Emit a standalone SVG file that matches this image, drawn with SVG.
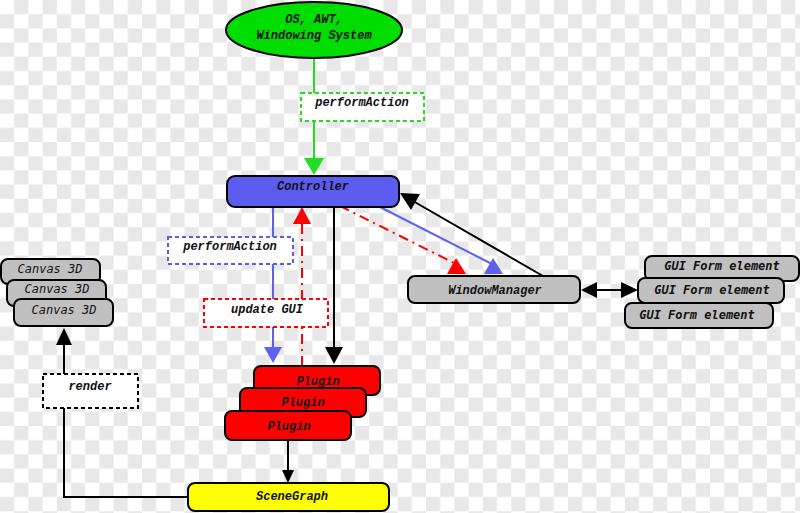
<svg xmlns="http://www.w3.org/2000/svg" width="800" height="513" viewBox="0 0 800 513">
<defs>
<pattern id="chk" x="0" y="0" width="28.4" height="28.4" patternUnits="userSpaceOnUse">
<rect x="0" y="0" width="28.4" height="28.4" fill="#ffffff"/>
<rect x="14.2" y="0" width="14.2" height="14.2" fill="#e8e8e8"/>
<rect x="0" y="14.2" width="14.2" height="14.2" fill="#e8e8e8"/>
</pattern>
<style>
.n{stroke:#000;stroke-width:2}
.t{font-family:"Liberation Mono","Courier New",monospace;font-weight:bold;font-style:italic;font-size:12px;fill:#111;text-anchor:middle;dominant-baseline:central}
.s{font-family:"DejaVu Sans Mono",monospace;font-style:italic;font-size:12px;fill:#111;text-anchor:middle;dominant-baseline:central}
.lbl{fill:#fff;stroke-width:2;stroke-dasharray:4,3}
.k{stroke:#000;stroke-width:2;fill:none}
</style>
</defs>
<rect x="0" y="0" width="800" height="513" fill="url(#chk)"/>
<g id="connectors">
<line x1="314" y1="58" x2="314" y2="159" stroke="#22dd22" stroke-width="2"/>
<polygon points="304,158 324,158 314,175" fill="#22dd22"/>
<line x1="273" y1="207" x2="273" y2="348" stroke="#6060f0" stroke-width="2"/>
<polygon points="264,347 282,347 273,363" fill="#6060f0"/>
<line x1="302" y1="366" x2="302" y2="223" stroke="#ff0000" stroke-width="2" stroke-dasharray="10,5,2,5"/>
<polygon points="293,224 311,224 302,207" fill="#ff0000"/>
<line x1="334" y1="207" x2="334" y2="348" class="k"/>
<polygon points="325,347 343,347 334,364" fill="#000"/>
<line x1="340" y1="206" x2="454" y2="263" stroke="#ff0000" stroke-width="2" stroke-dasharray="10,5,2,5"/>
<polygon points="447,274 466,274 456,258" fill="#ff0000"/>
<line x1="380" y1="207" x2="492" y2="264" stroke="#6060f0" stroke-width="2"/>
<polygon points="484,274 503,274 493,258" fill="#6060f0"/>
<line x1="543" y1="276" x2="413" y2="201" class="k"/>
<polygon points="400,193 420,194 411,210" fill="#000"/>
<line x1="596" y1="290" x2="622" y2="290" class="k"/>
<polygon points="581,290 597,282 597,298" fill="#000"/>
<polygon points="638,290 621,282 621,298" fill="#000"/>
<polyline points="188,497 64,497 64,344" class="k"/>
<polygon points="64,328 56,345 72,345" fill="#000"/>
<line x1="288" y1="440" x2="288" y2="472" class="k"/>
<polygon points="288,483 282,470 294,470" fill="#000"/>
</g>
<g id="os">
<ellipse cx="314" cy="30" rx="88" ry="28" fill="#00dd00" class="n"/>
<text x="314" y="20" class="t">OS, AWT,</text>
<text x="314" y="36" class="t">Windowing System</text>
</g>
<g id="lbl-performAction-green">
<rect x="301" y="93" width="123" height="28" class="lbl" stroke="#22dd22"/>
<text x="362" y="103" class="t">performAction</text>
</g>
<g id="controller">
<rect x="227" y="176" width="172" height="31" rx="8" fill="#5c5cf0" class="n"/>
<text x="313" y="187" class="t" fill="#0a0a40">Controller</text>
</g>
<g id="lbl-performAction-blue">
<rect x="168" y="237" width="125" height="27" class="lbl" stroke="#5c5cf0"/>
<text x="230" y="247" class="t">performAction</text>
</g>
<g id="lbl-updateGUI">
<rect x="204" y="299" width="124" height="28" class="lbl" stroke="#ff0000"/>
<text x="267" y="310" class="t">update GUI</text>
</g>
<g id="windowmanager">
<rect x="408" y="276" width="172" height="27" rx="7" fill="#c0c0c0" class="n"/>
<text x="495" y="291" class="t">WindowManager</text>
</g>
<g id="gui-form">
<rect x="645" y="256" width="154" height="25" rx="7" fill="#c0c0c0" class="n"/>
<text x="722" y="266" class="s" font-weight="bold">GUI Form element</text>
<rect x="638" y="278" width="146" height="25" rx="7" fill="#c0c0c0" class="n"/>
<text x="712" y="290" class="s" font-weight="bold">GUI Form element</text>
<rect x="625" y="303" width="148" height="25" rx="7" fill="#c0c0c0" class="n"/>
<text x="697" y="315" class="s" font-weight="bold">GUI Form element</text>
</g>
<g id="canvas3d">
<rect x="1" y="259" width="99" height="25" rx="7" fill="#c0c0c0" class="n"/>
<text x="50" y="269" class="s">Canvas 3D</text>
<rect x="7" y="280" width="99" height="26" rx="7" fill="#c0c0c0" class="n"/>
<text x="57" y="289" class="s">Canvas 3D</text>
<rect x="14" y="299" width="99" height="27" rx="7" fill="#c0c0c0" class="n"/>
<text x="64" y="310" class="s">Canvas 3D</text>
</g>
<g id="lbl-render">
<rect x="43" y="374" width="95" height="34" class="lbl" stroke="#000"/>
<text x="90" y="387" class="t">render</text>
</g>
<g id="plugins">
<rect x="254" y="366" width="126" height="29" rx="7" fill="#ff0000" class="n"/>
<text x="318" y="382" class="t">Plugin</text>
<rect x="240" y="388" width="126" height="29" rx="7" fill="#ff0000" class="n"/>
<text x="303" y="403" class="t">Plugin</text>
<rect x="225" y="411" width="126" height="29" rx="7" fill="#ff0000" class="n"/>
<text x="289" y="427" class="t">Plugin</text>
</g>
<g id="scenegraph">
<rect x="188" y="483" width="201" height="28" rx="7" fill="#ffff00" class="n"/>
<text x="292" y="497" class="t">SceneGraph</text>
</g>
</svg>
